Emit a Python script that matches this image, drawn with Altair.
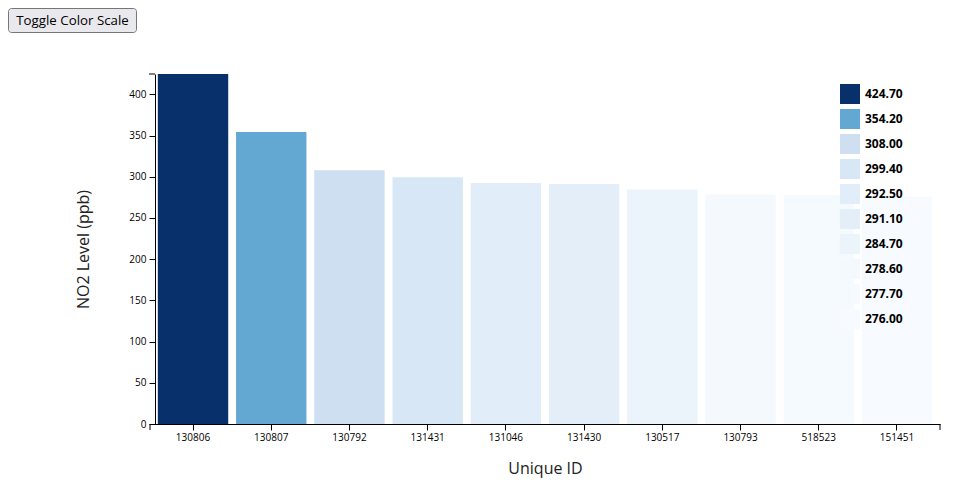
import altair as alt
import pandas as pd

ids = ["130806", "130807", "130792", "131431", "131046", "131430", "130517", "130793", "518523", "151451"]
no2 = [424.7, 354.2, 308.0, 299.4, 292.5, 291.1, 284.7, 278.6, 277.7, 276.0]
y_ticks = [0, 50, 100, 150, 200, 250, 300, 350, 400]
blues = ["#f7fbff", "#deebf7", "#c6dbef", "#9ecae1", "#6baed6", "#4292c6", "#2171b5", "#08519c", "#08306b"]
button_label = ["Toggle Color Scale"]

df = pd.DataFrame({"id": ids, "no2": no2})
FONT = "Open Sans"

bars = alt.Chart(df).mark_bar().encode(
    x=alt.X("id:N", sort=ids,
            scale=alt.Scale(paddingInner=0.1, paddingOuter=0.1),
            axis=alt.Axis(title="Unique ID", labelAngle=0, labelFontSize=10, labelFont=FONT,
                          labelColor="#000", tickColor="#000", domainColor="#000",
                          tickSize=6, labelPadding=2, titleFontSize=16, titleFont=FONT,
                          titleFontWeight="normal", titleColor="#222", titleY=44,
                          titleBaseline="middle")),
    y=alt.Y("no2:Q", scale=alt.Scale(domain=[0, max(no2)], nice=False, zero=True),
            axis=alt.Axis(title="NO2 Level (ppb)", values=y_ticks, grid=False, labelFontSize=10,
                          labelFont=FONT, labelColor="#000", tickColor="#000", domainColor="#000",
                          tickSize=6, labelPadding=3, offset=-5, titleFontSize=16, titleFont=FONT,
                          titleFontWeight="normal", titleColor="#222", titleX=-72, titleY=175,
                          titleAngle=-90, titleBaseline="middle", titleAlign="center")),
    color=alt.Color("no2:Q", scale=alt.Scale(range=blues, domain=[min(no2), max(no2)]),
                    legend=alt.Legend(type="symbol", values=no2, format=".2f", title=None,
                                      orient="none", legendX=690, legendY=10, direction="vertical",
                                      symbolType="square", symbolSize=400, symbolStrokeWidth=0,
                                      symbolOpacity=1, labelFont=FONT, labelFontSize=12,
                                      labelFontWeight="bold", labelColor="#000", labelOffset=5,
                                      rowPadding=5, clipHeight=20)),
)

one = pd.DataFrame({"label": button_label})

# outer axis ticks (as drawn by the original d3 axes)
outer_left = alt.Chart(one).mark_rule(color="#000", strokeWidth=1).encode(
    x=alt.value(0), y=alt.value(350), y2=alt.value(356))
outer_right = alt.Chart(one).mark_rule(color="#000", strokeWidth=1).encode(
    x=alt.value(790), y=alt.value(350), y2=alt.value(356))
outer_top = alt.Chart(one).mark_rule(color="#000", strokeWidth=1).encode(
    x=alt.value(-1), x2=alt.value(5), y=alt.value(0))

btn_rect = alt.Chart(one).mark_rect(fill="#e9e9ed", stroke="#767676", strokeWidth=1,
                                    cornerRadius=3).encode(
    x=alt.value(-141.5), x2=alt.value(-13.5), y=alt.value(-65.5), y2=alt.value(-41.5))
btn_text = alt.Chart(one).mark_text(font=FONT, fontSize=13.3, color="#000",
                                    align="center", baseline="middle").encode(
    text="label:N", x=alt.value(-77.5), y=alt.value(-53.5))

chart = alt.layer(bars, outer_left, outer_right, outer_top, btn_rect, btn_text).properties(
    width=790, height=350,
    autosize=alt.AutoSizeParams(type="none"),
    padding={"left": 142, "top": 66, "right": 12, "bottom": 68},
).configure_view(stroke=None)

chart.save("out.html", embed_options={"renderer": "svg", "actions": False})
